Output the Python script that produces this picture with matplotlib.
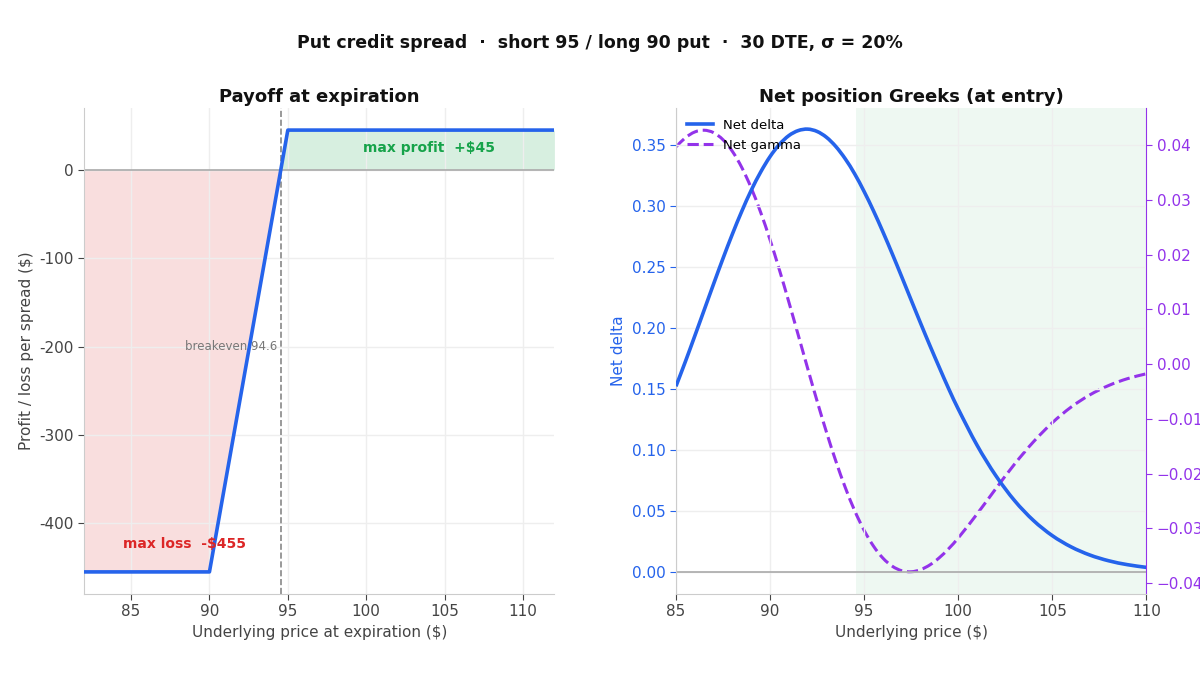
import matplotlib
matplotlib.use("Agg")
import matplotlib.pyplot as plt
from matplotlib.ticker import FuncFormatter
from matplotlib.path import Path
from matplotlib.patches import PathPatch
from matplotlib.lines import Line2D

# payoff at expiration, per spread ($)
expiry_price = [82, 90, 94.55, 95, 112]
expiry_pnl = [-455, -455, 0, 45, 45]
breakeven = 94.55
breakeven_label = "breakeven 94.6"
max_profit = 45
max_loss = -455

# net Greeks at entry
spot = [85, 85.5, 86, 86.5, 87, 87.5, 88, 88.5, 89, 89.5, 90, 90.5, 91, 91.5,
        92, 92.5, 93, 93.5, 94, 94.5, 95, 95.5, 96, 96.5, 97, 97.5, 98, 98.5,
        99, 99.5, 100, 101, 102, 103, 104, 105, 106, 107, 108, 109, 110]
net_delta = [0.1521, 0.1723, 0.1933, 0.2146, 0.2359, 0.2568, 0.2768, 0.2955,
             0.3126, 0.3275, 0.3402, 0.3502, 0.3574, 0.3615, 0.3627, 0.3608,
             0.3560, 0.3484, 0.3383, 0.3260, 0.3116, 0.2957, 0.2785, 0.2604,
             0.2417, 0.2227, 0.2038, 0.1853, 0.1674, 0.1499, 0.1336, 0.1039,
             0.0789, 0.0584, 0.0422, 0.0298, 0.0206, 0.0139, 0.0092, 0.0060,
             0.0038]
net_gamma = [0.03969, 0.04136, 0.04242, 0.04274, 0.04229, 0.04100, 0.03887,
             0.03592, 0.03219, 0.02775, 0.02272, 0.01720, 0.01134, 0.00530,
             -0.00078, -0.00674, -0.01244, -0.01775, -0.02256, -0.02679,
             -0.03037, -0.03326, -0.03545, -0.03693, -0.03775, -0.03794,
             -0.03755, -0.03667, -0.03536, -0.03370, -0.03177, -0.02739,
             -0.02275, -0.01825, -0.01419, -0.01071, -0.00785, -0.00561,
             -0.00390, -0.00265, -0.00176]

BLUE = "#2563eb"
PURPLE = "#9333ea"
GREEN = "#16a34a"
RED = "#dc2626"
GRID = "#eeeeee"
SPINE = "#cccccc"
TXT = "#444444"


def smooth_path(xs, ys):
    # draw a smooth stroke through the read points (cubic Hermite, x as parameter)
    n = len(xs)
    slopes = []
    for i in range(n):
        if i == 0:
            slopes.append((ys[1] - ys[0]) / (xs[1] - xs[0]))
        elif i == n - 1:
            slopes.append((ys[-1] - ys[-2]) / (xs[-1] - xs[-2]))
        else:
            slopes.append((ys[i + 1] - ys[i - 1]) / (xs[i + 1] - xs[i - 1]))
    verts = [(xs[0], ys[0])]
    codes = [Path.MOVETO]
    for i in range(n - 1):
        h = xs[i + 1] - xs[i]
        verts += [(xs[i] + h / 3, ys[i] + slopes[i] * h / 3),
                  (xs[i + 1] - h / 3, ys[i + 1] - slopes[i + 1] * h / 3),
                  (xs[i + 1], ys[i + 1])]
        codes += [Path.CURVE4] * 3
    return Path(verts, codes)


plt.rcParams["font.family"] = "DejaVu Sans"

fig = plt.figure(figsize=(12, 6.75), dpi=100)
fig.suptitle("Put credit spread  ·  short 95 / long 90 put  ·  30 DTE, σ = 20%",
             fontsize=12.5, fontweight="bold", y=0.95, color="#111111")

ax = fig.add_axes([0.07, 0.12, 0.392, 0.72])
ax2 = fig.add_axes([0.5633, 0.12, 0.392, 0.72])


def style(a):
    a.grid(True, color=GRID, linewidth=1)
    for s in ["top", "right"]:
        a.spines[s].set_visible(False)
    for s in ["left", "bottom"]:
        a.spines[s].set_color(SPINE)
    a.tick_params(colors=TXT, labelsize=11, length=4)


# ---- left: payoff
style(ax)
ax.fill_between(expiry_price, expiry_pnl, 0,
                where=[p <= 0 for p in expiry_pnl], color=RED, alpha=0.15,
                linewidth=0, zorder=1)
ax.fill_between(expiry_price, expiry_pnl, 0,
                where=[p >= 0 for p in expiry_pnl], color=GREEN, alpha=0.17,
                linewidth=0, zorder=1)
ax.axhline(0, color="#aaaaaa", linewidth=1.2, zorder=2)
ax.axvline(breakeven, color="#888888", linestyle="--", linewidth=1.2, zorder=2)
ax.plot(expiry_price, expiry_pnl, color=BLUE, linewidth=2.6, zorder=3)
ax.text(breakeven - 0.25, -200, breakeven_label, ha="right",
        va="center", fontsize=8.5, color="#777777")
ax.text(104.0, 25, f"max profit  +${max_profit}", ha="center", va="center",
        fontsize=10, fontweight="bold", color=GREEN)
ax.text(88.4, -423, f"max loss  -${abs(max_loss)}", ha="center", va="center",
        fontsize=10, fontweight="bold", color=RED)
ax.set_xlim(82, 112)
ax.set_ylim(-480, 70)
ax.set_xticks([85, 90, 95, 100, 105, 110])
ax.set_yticks([0, -100, -200, -300, -400])
ax.yaxis.set_major_formatter(FuncFormatter(lambda v, p: f"{v:.0f}"))
ax.set_title("Payoff at expiration", fontsize=13, fontweight="bold",
             color="#111111", pad=4)
ax.set_xlabel("Underlying price at expiration ($)", fontsize=11, color=TXT)
ax.set_ylabel("Profit / loss per spread ($)", fontsize=11, color=TXT)

# ---- right: greeks
style(ax2)
ax2.axhline(0, color="#aaaaaa", linewidth=1.2, zorder=2)
ax2.add_patch(PathPatch(smooth_path(spot, net_delta), fill=False,
                        edgecolor=BLUE, linewidth=2.6, zorder=3))
ax2.set_xlim(85, 110)
ax2.set_ylim(-0.018, 0.380)
ax2.set_xticks([85, 90, 95, 100, 105, 110])
ax2.set_yticks([0.0, 0.05, 0.10, 0.15, 0.20, 0.25, 0.30, 0.35])
ax2.yaxis.set_major_formatter(FuncFormatter(lambda v, p: f"{v:.2f}"))
ax2.tick_params(axis="y", colors=BLUE)
ax2.tick_params(axis="x", colors=TXT)
ax2.set_xlabel("Underlying price ($)", fontsize=11, color=TXT)
ax2.set_ylabel("Net delta", fontsize=11, color=BLUE)
ax2.set_title("Net position Greeks (at entry)", fontsize=13, fontweight="bold",
              color="#111111", pad=4)

tw = ax2.twinx()
tw.axvspan(breakeven, 110, color=GREEN, alpha=0.07, linewidth=0, zorder=0)
tw.add_patch(PathPatch(smooth_path(spot, net_gamma), fill=False,
                       edgecolor=PURPLE, linewidth=2.2, linestyle="--", zorder=3))
tw.set_ylim(-0.042, 0.0468)
tw.set_yticks([-0.04, -0.03, -0.02, -0.01, 0.0, 0.01, 0.02, 0.03, 0.04])
tw.tick_params(axis="y", colors=PURPLE, labelsize=11, length=4)
for s in ["top", "left", "bottom"]:
    tw.spines[s].set_visible(False)
tw.spines["right"].set_color(PURPLE)
ax2.set_zorder(tw.get_zorder() + 1)
ax2.patch.set_visible(False)
tw.patch.set_visible(True)
tw.patch.set_facecolor("white")

handles = [Line2D([], [], color=BLUE, linewidth=2.6),
           Line2D([], [], color=PURPLE, linewidth=2.2, linestyle="--")]
ax2.legend(handles, ["Net delta", "Net gamma"], loc="upper left",
           frameon=False, fontsize=9.5, handlelength=2.0,
           borderaxespad=0.4, labelspacing=0.55)

fig.savefig("out.png", dpi=100)
